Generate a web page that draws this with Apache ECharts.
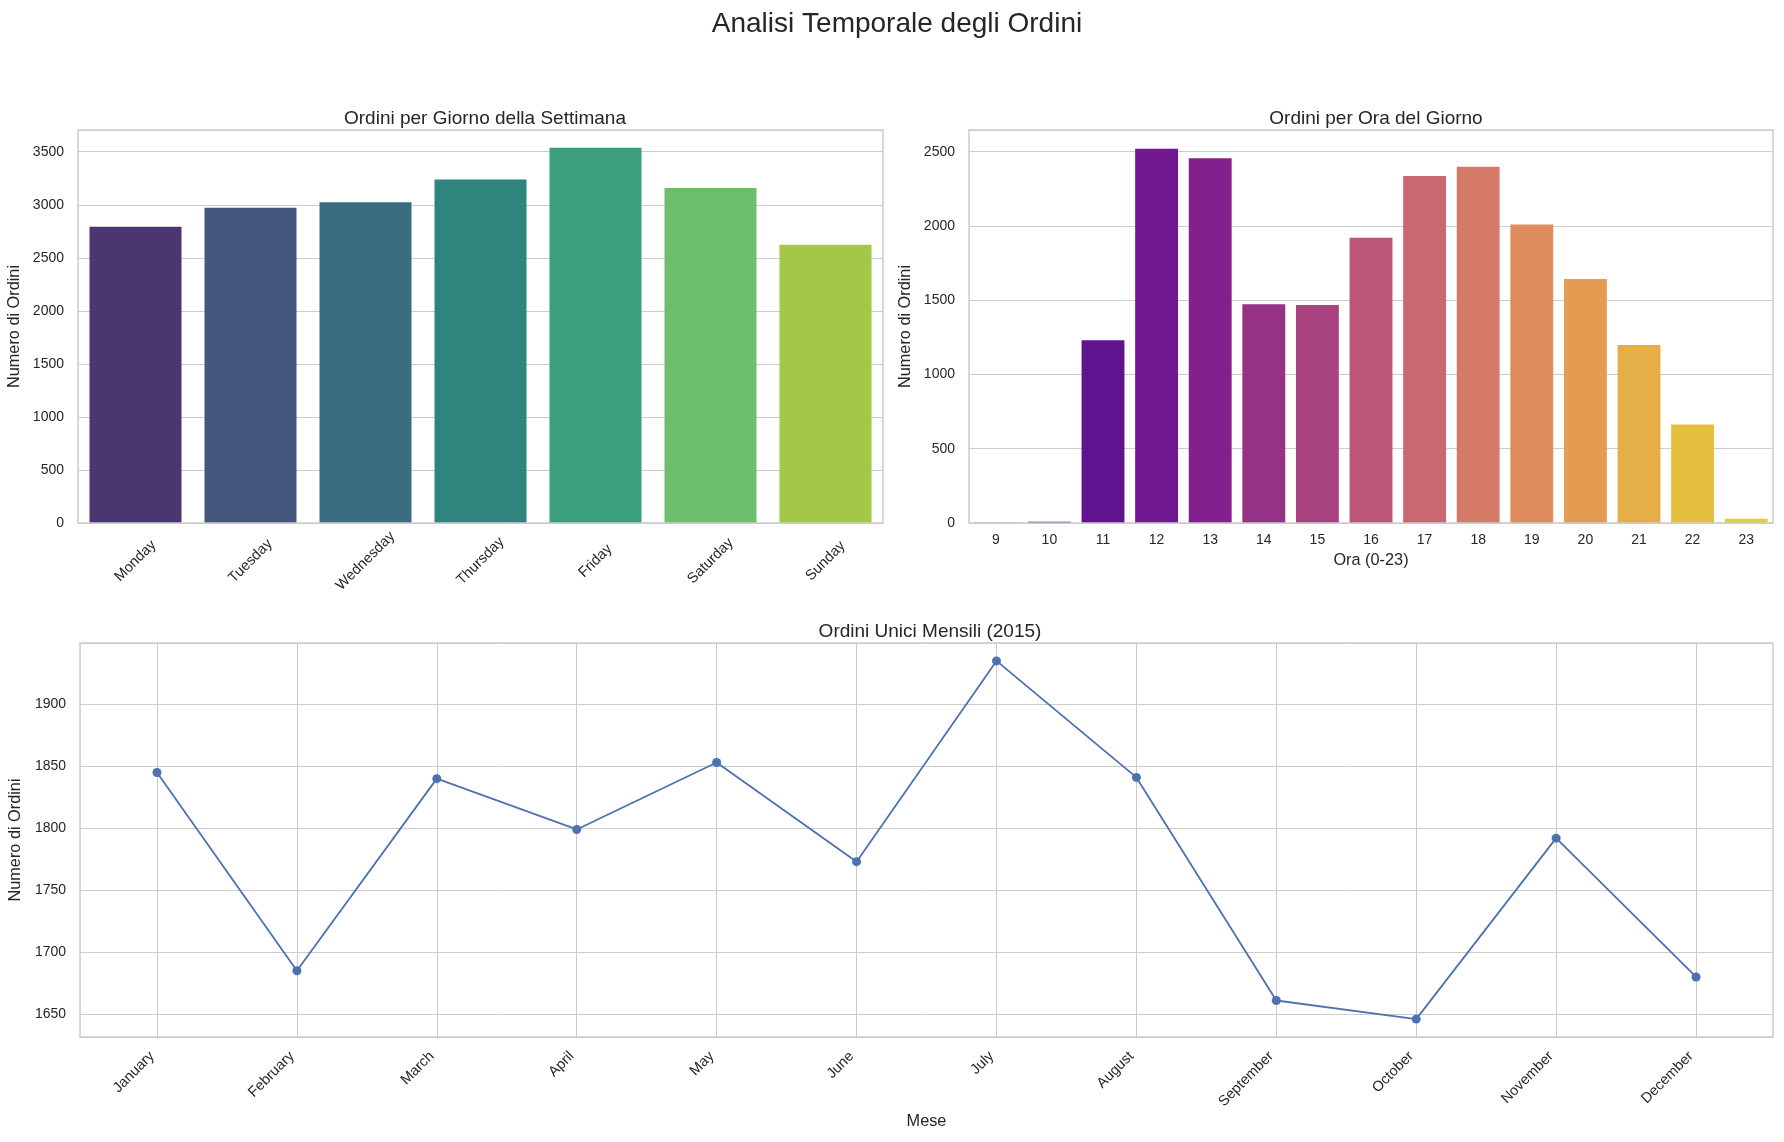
<!DOCTYPE html>
<html>
<head>
<meta charset="utf-8">
<title>Analisi Temporale degli Ordini</title>
<script src="https://cdn.jsdelivr.net/npm/echarts@6.0.0/dist/echarts.min.js"></script>
<style>
  html, body { margin: 0; padding: 0; background: #fff; }
  #chart { width: 1784px; height: 1142px; }
</style>
</head>
<body>
<div id="chart"></div>
<script>
// dati
var giorni = ['Monday', 'Tuesday', 'Wednesday', 'Thursday', 'Friday', 'Saturday', 'Sunday'];
var ordiniGiorno = [2794, 2973, 3024, 3239, 3538, 3158, 2624];
var coloriGiorno = ['#4a3670', '#45577f', '#3a6d80', '#2f847e', '#3c9f7b', '#6cbd6c', '#a3c747'];

var ore = ['9', '10', '11', '12', '13', '14', '15', '16', '17', '18', '19', '20', '21', '22', '23'];
var ordiniOra = [1, 8, 1231, 2520, 2455, 1472, 1468, 1920, 2336, 2399, 2009, 1642, 1198, 663, 28];
var coloriOra = ['#3a0d8f', '#4c0f91', '#5f138f', '#71178f', '#84208b', '#963286', '#a8437f', '#bb5678',
  '#c96870', '#d67a68', '#de8b5d', '#e39c52', '#e5ae47', '#e4bf3d', '#dcd23a'];

var mesi = ['January', 'February', 'March', 'April', 'May', 'June', 'July', 'August',
  'September', 'October', 'November', 'December'];
var ordiniMese = [1845, 1685, 1840, 1799, 1853, 1773, 1935, 1841, 1661, 1646, 1792, 1680];

var FONT = 'Liberation Sans, Arial, sans-serif';
var TXT = '#262626';
var GRID_C = '#cccccc';

var myChart = echarts.init(document.getElementById('chart'), null, { renderer: 'canvas' });

function barData(vals, cols) {
  return vals.map(function (v, i) {
    return { value: v, itemStyle: { color: cols[i] } };
  });
}

function yAxisBase(gridIndex, max, interval) {
  var ax = {
    type: 'value',
    gridIndex: gridIndex,
    min: 0,
    max: max,
    name: 'Numero di Ordini',
    nameLocation: 'middle',
    nameGap: 55,
    nameTextStyle: { fontFamily: FONT, fontSize: 16.3, color: TXT },
    axisLine: { show: false },
    axisTick: { show: false },
    axisLabel: {
      fontFamily: FONT, fontSize: 14, color: TXT, margin: 14,
      formatter: function (v) { return v % 500 === 0 ? String(v) : ''; }
    },
    splitLine: { show: true, lineStyle: { color: GRID_C, width: 1 } }
  };
  if (interval) ax.interval = interval;
  return ax;
}

function gridBox(l, t, w, h) {
  return { left: l, top: t, width: w, height: h, show: true, z: 10,
    borderColor: GRID_C, borderWidth: 1.5, backgroundColor: 'transparent' };
}

var option = {
  backgroundColor: '#ffffff',
  animation: false,
  title: [
    {
      text: 'Analisi Temporale degli Ordini',
      left: 892, top: 5, textAlign: 'center',
      textStyle: { fontFamily: FONT, fontSize: 28, fontWeight: 'normal', color: TXT }
    },
    {
      text: 'Ordini per Giorno della Settimana',
      left: 480, top: 104, textAlign: 'center',
      textStyle: { fontFamily: FONT, fontSize: 19, fontWeight: 'normal', color: TXT }
    },
    {
      text: 'Ordini per Ora del Giorno',
      left: 1371, top: 104, textAlign: 'center',
      textStyle: { fontFamily: FONT, fontSize: 19, fontWeight: 'normal', color: TXT }
    },
    {
      text: 'Ordini Unici Mensili (2015)',
      left: 925, top: 617, textAlign: 'center',
      textStyle: { fontFamily: FONT, fontSize: 19, fontWeight: 'normal', color: TXT }
    }
  ],
  grid: [
    gridBox(78, 130, 805, 393),
    gridBox(969, 130, 804, 393),
    gridBox(78, 643, 1695, 394)
  ],
  xAxis: [
    {
      type: 'category', gridIndex: 0, data: giorni, boundaryGap: true,
      axisLine: { show: false }, axisTick: { show: false },
      axisLabel: {
        interval: 0, rotate: 45, align: 'center', verticalAlign: 'middle', margin: 38,
        fontFamily: FONT, fontSize: 14.5, color: TXT
      },
      splitLine: { show: false }
    },
    {
      type: 'category', gridIndex: 1, data: ore, boundaryGap: true,
      name: 'Ora (0-23)', nameLocation: 'middle', nameGap: 30,
      nameTextStyle: { fontFamily: FONT, fontSize: 16.3, color: TXT },
      axisLine: { show: false }, axisTick: { show: false },
      axisLabel: { interval: 0, margin: 10, fontFamily: FONT, fontSize: 14, color: TXT },
      splitLine: { show: false }
    },
    {
      type: 'value', gridIndex: 2, min: -0.55, max: 11.55,
      name: 'Mese', nameLocation: 'middle', nameGap: 77,
      nameTextStyle: { fontFamily: FONT, fontSize: 16.3, color: TXT },
      axisLine: { show: false }, axisTick: { show: false },
      axisLabel: {
        customValues: mesi.map(function (m, i) { return i; }),
        formatter: function (v) { return mesi[Math.round(v)] || ''; },
        rotate: 45, margin: 12, padding: [0, 7, 0, 0],
        fontFamily: FONT, fontSize: 14.5, color: TXT
      },
      splitLine: { show: false }
    }
  ],
  yAxis: [
    yAxisBase(0, 3705, 500),
    yAxisBase(1, 2646, 500),
    {
      type: 'value', gridIndex: 2, min: 1631.55, max: 1949.45,
      name: 'Numero di Ordini', nameLocation: 'middle', nameGap: 55,
      nameTextStyle: { fontFamily: FONT, fontSize: 16.3, color: TXT },
      axisLine: { show: false }, axisTick: { show: false },
      axisLabel: {
        fontFamily: FONT, fontSize: 14, color: TXT, margin: 14,
        formatter: function (v) { return Math.abs(v % 50) < 1e-6 ? String(Math.round(v)) : ''; }
      },
      splitLine: { show: true, lineStyle: { color: GRID_C, width: 1 } }
    }
  ],
  series: [
    {
      type: 'bar', xAxisIndex: 0, yAxisIndex: 0,
      barCategoryGap: '20%',
      data: barData(ordiniGiorno, coloriGiorno)
    },
    {
      type: 'bar', xAxisIndex: 1, yAxisIndex: 1,
      barCategoryGap: '20%',
      data: barData(ordiniOra, coloriOra)
    },
    {
      type: 'line', xAxisIndex: 2, yAxisIndex: 2,
      data: ordiniMese.map(function (v, i) { return [i, v]; }),
      symbol: 'circle', symbolSize: 9,
      lineStyle: { color: '#4c72b0', width: 1.8 },
      itemStyle: { color: '#4c72b0' },
      z: 5,
      markLine: {
        silent: true, symbol: 'none', label: { show: false },
        lineStyle: { color: GRID_C, width: 1, type: 'solid' },
        z: 1,
        data: mesi.map(function (m, i) { return { xAxis: i }; })
      }
    }
  ]
};

myChart.setOption(option);
</script>
</body>
</html>
